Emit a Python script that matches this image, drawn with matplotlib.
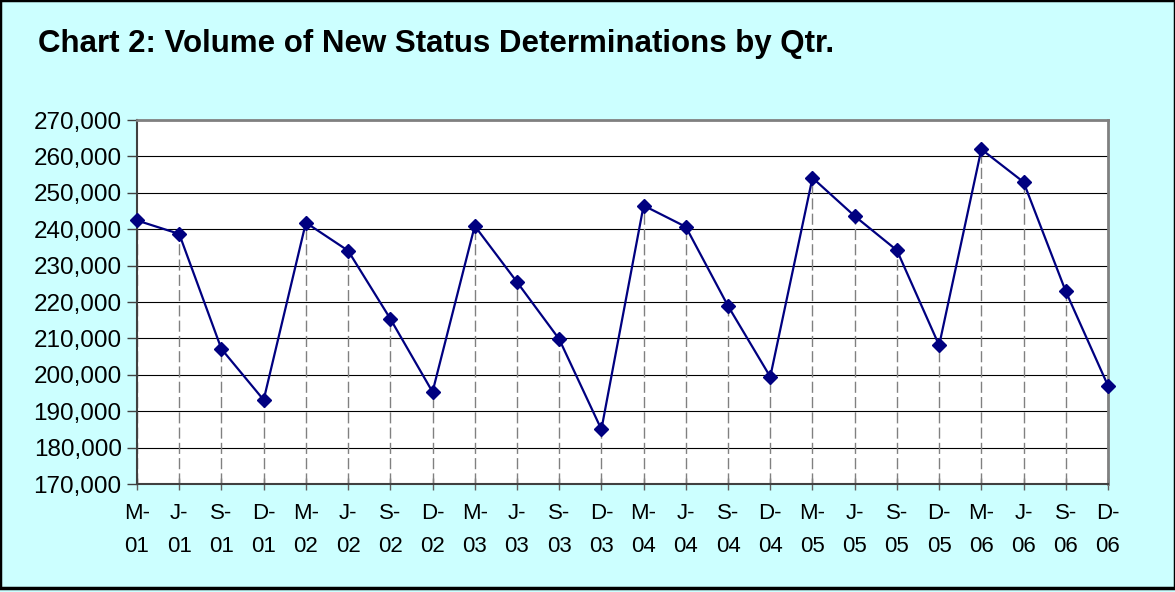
import numpy as np
import matplotlib.pyplot as plt
from matplotlib.patches import Rectangle
from matplotlib.ticker import FuncFormatter, MultipleLocator

plt.rcParams['font.family'] = ['Liberation Sans', 'DejaVu Sans']

##################################################
# data

quarters = ['M-\n01', 'J-\n01', 'S-\n01', 'D-\n01',
            'M-\n02', 'J-\n02', 'S-\n02', 'D-\n02',
            'M-\n03', 'J-\n03', 'S-\n03', 'D-\n03',
            'M-\n04', 'J-\n04', 'S-\n04', 'D-\n04',
            'M-\n05', 'J-\n05', 'S-\n05', 'D-\n05',
            'M-\n06', 'J-\n06', 'S-\n06', 'D-\n06']
volume = [242400, 238700, 207100, 193100,
          241800, 234100, 215400, 195300,
          240900, 225500, 209800, 185000,
          246500, 240650, 218900, 199450,
          254100, 243600, 234200, 208100,
          261950, 252950, 222900, 197000]

title = 'Chart 2: Volume of New Status Determinations by Qtr.'
ymin, ymax = 170000, 270000

##################################################
# figure

fig = plt.figure(figsize=(11.75, 5.92), dpi=100, facecolor='#ccffff')
ax = fig.add_axes([137/1175, 1-484/592, (1108-137)/1175, (484-120)/592])
ax.set_facecolor('white')

x = np.arange(len(volume))

# drop lines
ax.vlines(x, ymin, volume, colors='#808080', linewidth=1.0,
          linestyles=(0, (8, 3)), zorder=2)

ax.plot(x, volume, color='#000080', linewidth=1.6, marker='D',
        markersize=7.5, markeredgecolor='#000080', zorder=4, clip_on=False)

ax.set_xlim(0, len(volume)-1)
ax.set_ylim(ymin, ymax)
ax.yaxis.set_major_locator(MultipleLocator(10000))
ax.yaxis.set_major_formatter(FuncFormatter(lambda v, p: '{:,.0f}'.format(v)))
ax.set_xticks(x)
ax.set_xticklabels(quarters, fontsize=16, linespacing=1.75)
ax.tick_params(axis='y', labelsize=17.5, direction='out', length=7, width=1,
               color='#404040', pad=4)
ax.tick_params(axis='x', direction='inout', length=9, width=1,
               color='#606060', pad=9.5)

ax.grid(axis='y', color='black', linewidth=0.8, zorder=1)
ax.set_axisbelow(True)

for side in ['top', 'right']:
    ax.spines[side].set_color('#808080')
    ax.spines[side].set_linewidth(2)
for side in ['left', 'bottom']:
    ax.spines[side].set_color('#404040')
    ax.spines[side].set_linewidth(1.5)

fig.text(38/1175, 1-44/592, title, fontsize=22.5, fontweight='bold',
         ha='left', va='center')

# outer border
fig.patches.append(Rectangle((0, 0.006), 1, 0.994, transform=fig.transFigure,
                             fill=False, edgecolor='black', linewidth=2.5))

plt.savefig('out.png', dpi=100, facecolor=fig.get_facecolor())
